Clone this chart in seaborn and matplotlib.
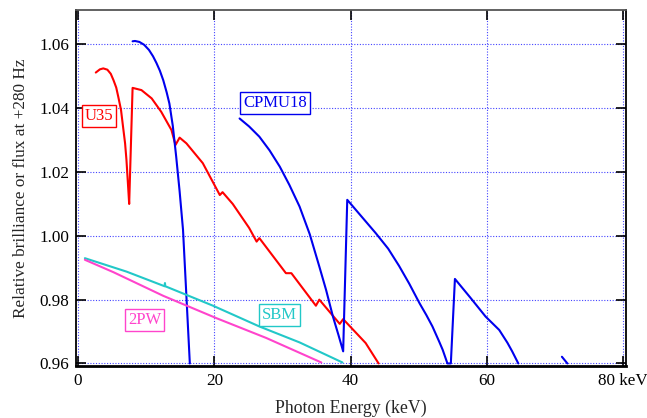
import matplotlib
matplotlib.use("Agg")
import matplotlib.pyplot as plt
import seaborn as sns
import pandas as pd

# Undulator U35: relative brilliance vs photon energy
u35_e = [2.6, 3.2, 3.7, 4.3, 4.8, 5.2, 5.6, 5.9, 6.3, 6.6, 6.9, 7.1, 7.3, 7.5,
         8.0, 9.3, 10.8, 12.2, 13.7, 14.3, 14.9, 15.9, 18.3, 20.8, 21.2, 22.7, 25.1,
         26.2, 26.6, 30.5, 31.3, 34.9, 35.4, 38.4, 38.9, 42.2, 44.1]
u35_v = [1.0512, 1.0522, 1.0525, 1.0521, 1.0508, 1.0488, 1.0465, 1.0436, 1.0395, 1.0342,
         1.0290, 1.0238, 1.0170, 1.0100,
         1.0464, 1.0457, 1.0431, 1.0389, 1.0332, 1.0285, 1.0308, 1.0290, 1.0228, 1.0128,
         1.0137, 1.0100, 1.0025, 0.9982, 0.9993, 0.9883, 0.9883, 0.9781, 0.9800, 0.9724,
         0.9739, 0.9664, 0.9600]

# CPMU18, first harmonic branch
cp1_e = [8.0, 8.35, 9.0, 9.7, 10.4, 11.0, 11.5, 12.0, 12.5, 13.0, 13.4, 13.9, 14.4,
         14.9, 15.4, 15.9, 16.4]
cp1_v = [1.0610, 1.0611, 1.0608, 1.0599, 1.0583, 1.0563, 1.0542, 1.0518, 1.0488, 1.0450,
         1.0415, 1.0345, 1.0248, 1.0140, 1.0019, 0.9810, 0.9600]

# CPMU18, higher harmonic branches
cp2_e = [23.7, 25.1, 26.6, 28.1, 29.6, 31.0, 32.5, 34.0, 35.4, 36.4, 37.4, 38.2, 38.9,
         39.5, 41.5, 43.7, 45.5, 47.1, 48.6, 50.1, 51.1, 52.0, 53.0, 53.5, 54.2,
         54.7, 55.3, 57.5, 59.8, 61.8, 63.0, 63.7, 64.6]
cp2_v = [1.0368, 1.0343, 1.0311, 1.0268, 1.0217, 1.0160, 1.0092, 1.0005, 0.9904, 0.9830,
         0.9747, 0.9690, 0.9638,
         1.0113, 1.0063, 1.0008, 0.9960, 0.9906, 0.9850, 0.9789, 0.9752, 0.9716, 0.9668,
         0.9643, 0.9600,
         0.9600, 0.9865, 0.9808, 0.9747, 0.9705, 0.9665, 0.9638, 0.9600]

cp3_e = [71.0, 71.8]
cp3_v = [0.9621, 0.9600]

# Superbend magnet
sbm_e = [1.0, 7.1, 12.7, 12.75, 12.8, 19.8, 26.6, 32.5, 38.8]
sbm_v = [0.9930, 0.9888, 0.9842, 0.9852, 0.9842, 0.9781, 0.9716, 0.9666, 0.9603]

# Two-pole wiggler
pw_e = [1.0, 5.2, 12.5, 20.3, 27.6, 35.7]
pw_v = [0.9925, 0.9886, 0.9812, 0.9742, 0.9680, 0.9603]

x_ticks = [0, 20, 40, 60, 80]
x_tick_labels = ["0", "20", "40", "60", "80 keV"]
y_ticks = [0.96, 0.98, 1.00, 1.02, 1.04, 1.06]
y_tick_labels = ["0.96", "0.98", "1.00", "1.02", "1.04", "1.06"]

RED = "#ff0000"
BLUE = "#0000ee"
CYAN = "#22c8c8"
MAGENTA = "#ff44cc"

sns.set_theme(style="white")
plt.rcParams["font.family"] = ["Liberation Serif", "DejaVu Serif"]

fig = plt.figure(figsize=(6.47, 4.18), dpi=100)
ax = fig.add_axes([0.1175, 0.1244, 0.85, 0.8516])

series = [
    (u35_e, u35_v, RED),
    (cp1_e, cp1_v, BLUE),
    (cp2_e, cp2_v, BLUE),
    (cp3_e, cp3_v, BLUE),
    (sbm_e, sbm_v, CYAN),
    (pw_e, pw_v, MAGENTA),
]
for xs, ys, col in series:
    df = pd.DataFrame({"E": xs, "v": ys})
    sns.lineplot(data=df, x="E", y="v", ax=ax, color=col, linewidth=1.5,
                 sort=False, estimator=None)

ax.set_xlim(-0.3, 80.4)
ax.set_ylim(0.9592, 1.0708)
ax.set_xticks(x_ticks)
ax.set_xticklabels(x_tick_labels)
ax.set_yticks(y_ticks)
ax.set_yticklabels(y_tick_labels)

ax.grid(True, color="#4444ff", linestyle=(0, (1, 1.5)), linewidth=0.8)
ax.tick_params(direction="in", length=7, width=1.2, colors="black",
               top=True, right=True, bottom=True, left=True, labelsize=12.3,
               pad=5)
for s in ax.spines.values():
    s.set_color("black")
    s.set_linewidth(1.3)
ax.spines["top"].set_color("#555555")
ax.spines["bottom"].set_linewidth(2.0)

ax.set_xlabel("Photon Energy (keV)", fontsize=12.8, labelpad=8)
ax.set_ylabel("Relative brilliance or flux at +280 Hz", fontsize=12.4, labelpad=7)

labels = [
    ("U35", 3.07, 1.0376, RED),
    ("CPMU18", 28.9, 1.0415, BLUE),
    ("SBM", 29.5, 0.9751, CYAN),
    ("2PW", 9.8, 0.9737, MAGENTA),
]
for txt, x, y, col in labels:
    ax.text(x, y, txt, color=col, fontsize=12, ha="center", va="center",
            bbox=dict(boxstyle="square,pad=0.18", facecolor="white",
                      edgecolor=col, linewidth=1.0))

fig.savefig("out.png", dpi=100)
